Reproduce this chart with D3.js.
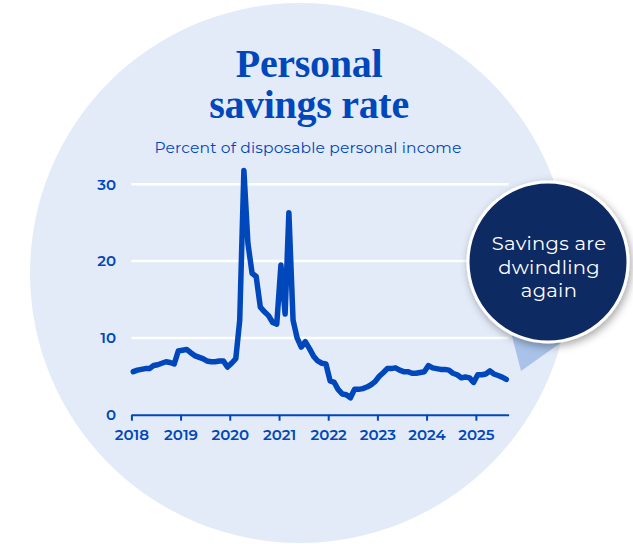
<!DOCTYPE html>
<html><head><meta charset="utf-8">
<script src="https://cdn.jsdelivr.net/npm/d3@7"></script>
<style>
html,body{margin:0;padding:0;background:#fff;}
svg{display:block;}
</style></head>
<body>
<svg id="chart" width="633" height="544"></svg>
<script>
// ---- data ----
const startYear = 2018, startMonth = 0;
const savingsRate = [
  // 2018
  5.6,5.8,5.9,6.0,6.0,6.4,6.5,6.7,6.9,6.8,6.6,8.3,
  // 2019
  8.4,8.5,8.1,7.7,7.5,7.3,7.0,6.9,6.9,7.0,7.0,6.2,
  // 2020
  6.7,7.3,12.3,31.8,22.3,18.4,18.0,14.0,13.4,12.9,12.0,11.8,
  // 2021
  19.5,13.1,26.3,12.3,10.0,8.8,9.5,8.6,7.6,7.0,6.7,6.6,
  // 2022
  4.4,4.2,3.3,2.7,2.6,2.2,3.3,3.3,3.4,3.6,3.9,4.3,
  // 2023
  5.0,5.5,6.0,6.0,6.1,5.8,5.6,5.6,5.4,5.4,5.5,5.6,
  // 2024
  6.4,6.1,6.0,5.9,5.9,5.8,5.4,5.2,4.8,4.9,4.8,4.2,
  // 2025
  5.2,5.2,5.3,5.7,5.3,5.1,4.9,4.6
];
const yTicks = [0,10,20,30];
const xTickYears = [2018,2019,2020,2021,2022,2023,2024,2025];
const titleLines = ["Personal","savings rate"];
const subtitle = "Percent of disposable personal income";
const calloutLines = ["Savings are","dwindling","again"];

// ---- build ----
const data = savingsRate.map((v,i)=>({date:new Date(startYear, startMonth+i, 15), value:v}));
const svg = d3.select("#chart");
const blue = "#0047bb";
const sans = "Montserrat, 'Noto Sans', sans-serif";

const defs = svg.append("defs");
const f = defs.append("filter").attr("id","shadow").attr("x","-30%").attr("y","-30%").attr("width","160%").attr("height","160%");
f.append("feDropShadow").attr("dx",2).attr("dy",3).attr("stdDeviation",4).attr("flood-color","#000").attr("flood-opacity",0.35);

// background circle
svg.append("circle").attr("cx",300).attr("cy",273).attr("r",270).attr("fill","#e3ebf8");

const x = d3.scaleTime().domain([new Date(2018,0,1), new Date(2025,8,1)]).range([131.4,508.6]);
const y = d3.scaleLinear().domain([0,30]).range([414.7,184.3]);

// gridlines
svg.append("g").selectAll("line").data(yTicks.filter(d=>d>0)).join("line")
  .attr("x1",x.range()[0]).attr("x2",x.range()[1])
  .attr("y1",d=>y(d)).attr("y2",d=>y(d))
  .attr("stroke","#fff").attr("stroke-width",2.5);

// y labels
svg.append("g").selectAll("text").data(yTicks).join("text")
  .attr("x",116).attr("y",d=>y(d)).attr("dy","0.35em")
  .attr("text-anchor","end")
  .attr("font-family",sans).attr("font-weight",600)
  .attr("font-size",15).attr("fill",blue).text(d=>d);

// x axis
const xAxis = d3.axisBottom(x)
  .tickValues(xTickYears.map(yr=>new Date(yr,0,1)))
  .tickFormat(d3.timeFormat("%Y")).tickSize(6).tickSizeOuter(0);
const gx = svg.append("g").attr("transform",`translate(0,${y(0)})`).call(xAxis);
gx.select(".domain").attr("stroke",blue).attr("stroke-width",2);
gx.selectAll(".tick line").attr("stroke",blue).attr("stroke-width",2);
gx.selectAll(".tick text").attr("fill",blue).attr("font-size",15)
  .attr("font-family",sans).attr("font-weight",600).attr("dy","1.1em");

// line
const line = d3.line().x(d=>x(d.date)).y(d=>y(d.value)).curve(d3.curveLinear);
svg.append("path").datum(data).attr("d",line)
  .attr("fill","none").attr("stroke",blue).attr("stroke-width",5.5)
  .attr("stroke-linejoin","round").attr("stroke-linecap","round");

// title
svg.append("g").selectAll("text").data(titleLines).join("text")
  .attr("x",309).attr("y",(d,i)=>77+i*41)
  .attr("text-anchor","middle")
  .attr("font-family","'Liberation Serif', serif").attr("font-weight",700)
  .attr("font-size",40).attr("letter-spacing",-0.3).attr("fill",blue).text(d=>d);

svg.append("text").attr("x",308).attr("y",152.5).attr("text-anchor","middle")
  .attr("font-family",sans).attr("font-size",15.5).attr("letter-spacing",0.15)
  .attr("fill",blue).text(subtitle);

// callout pointer
svg.append("path").attr("d","M500,290 L590,322 L521,371 Z").attr("fill","#a9c2e9");

// callout circle
svg.append("circle").attr("cx",548).attr("cy",262).attr("r",80)
  .attr("fill","#0f2a63").attr("stroke","#fff").attr("stroke-width",3)
  .attr("filter","url(#shadow)");
svg.append("g").selectAll("text").data(calloutLines).join("text")
  .attr("x",549).attr("y",(d,i)=>250+i*23.5)
  .attr("text-anchor","middle")
  .attr("font-family",sans).attr("font-size",19.5).attr("letter-spacing",0.3)
  .attr("fill","#fff").text(d=>d);
</script>
</body></html>
